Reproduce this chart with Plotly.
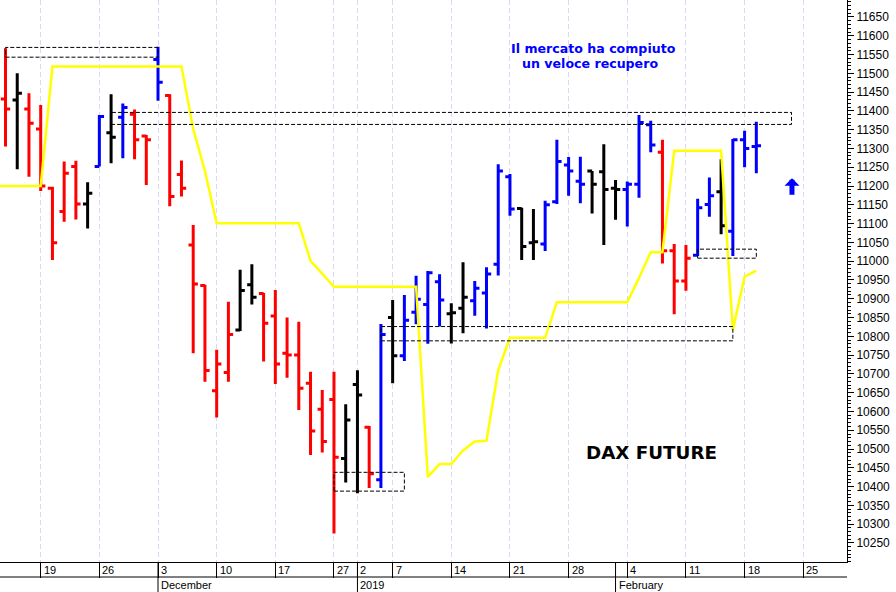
import plotly.graph_objects as go

# ---------------- data ----------------
# trading days shown on the axis (one slot per session); first and last slots carry no bars
axis_dates = (
    ["2018-11-13", "2018-11-14", "2018-11-15", "2018-11-16", "2018-11-19", "2018-11-20", "2018-11-21",
     "2018-11-22", "2018-11-23", "2018-11-26", "2018-11-27", "2018-11-28", "2018-11-29", "2018-11-30",
     "2018-12-03", "2018-12-04", "2018-12-05", "2018-12-06", "2018-12-07", "2018-12-10", "2018-12-11",
     "2018-12-12", "2018-12-13", "2018-12-14", "2018-12-17", "2018-12-18", "2018-12-19", "2018-12-20",
     "2018-12-21", "2018-12-27", "2018-12-28",
     "2019-01-02", "2019-01-03", "2019-01-04", "2019-01-07", "2019-01-08", "2019-01-09", "2019-01-10",
     "2019-01-11", "2019-01-14", "2019-01-15", "2019-01-16", "2019-01-17", "2019-01-18", "2019-01-21",
     "2019-01-22", "2019-01-23", "2019-01-24", "2019-01-25", "2019-01-28", "2019-01-29", "2019-01-30",
     "2019-01-31", "2019-02-01", "2019-02-04", "2019-02-05", "2019-02-06", "2019-02-07", "2019-02-08",
     "2019-02-11", "2019-02-12", "2019-02-13", "2019-02-14", "2019-02-15", "2019-02-18", "2019-02-19",
     "2019-02-20", "2019-02-21", "2019-02-22", "2019-02-25", "2019-02-26", "2019-02-27", "2019-02-28"]
)

bar_dates = axis_dates[1:66]

opens = [11432, 11429, 11405, 11352, 11194, 11132, 11252, 11152, 11252, 11342, 11383, 11391, 11333,
         11537, 11441, 11231, 11043, 10935, 10655, 10704, 10817, 10937, 10914, 10854, 10755, 10750,
         10675, 10606, 10632, 10475,
         10672, 10558, 10418, 10850, 10748, 10864, 10885, 10945, 10860, 10875, 10895, 10915, 10992,
         11225, 11140, 11049, 11046, 11158, 11256, 11213, 11240, 11238,
         11194, 11191, 11205, 11363, 11290, 11028, 10947, 11016, 11151, 11185, 11080, 11323, 11305]
highs = [11567, 11500, 11447, 11416, 11198, 11265, 11267, 11210, 11389, 11444, 11420, 11404, 11336,
         11571, 11444, 11268, 11096, 10937, 10764, 10892, 10977, 10992, 10915, 10923, 10850, 10839,
         10706, 10657, 10706, 10619,
         10710, 10561, 10833, 10897, 10910, 10961, 10974, 10965, 10888, 10997, 10947, 10984, 11258,
         11232, 11142, 11139, 11161, 11323, 11277, 11278, 11240, 11311,
         11216, 11212, 11389, 11374, 11323, 11046, 11043, 11166, 11223, 11271, 11325, 11347, 11371]
lows = [11305, 11245, 11225, 11187, 11003, 11105, 11111, 11087, 11252, 11261, 11274, 11271, 11203,
        11427, 11146, 11172, 10755, 10679, 10584, 10679, 10814, 10885, 10733, 10673, 10690, 10604,
        10484, 10491, 10275, 10411,
        10382, 10396, 10396, 10675, 10734, 10832, 10780, 10826, 10781, 10808, 10855, 10821, 10962,
        11121, 11003, 11003, 11027, 11152, 11174, 11154, 11127, 11043,
        11110, 11092, 11169, 11290, 10994, 10859, 10921, 11014, 11118, 11072, 11014, 11250, 11234]
closes = [11405, 11447, 11367, 11200, 11049, 11234, 11152, 11181, 11385, 11330, 11409, 11323, 11323,
          11476, 11172, 11194, 10939, 10709, 10726, 10805, 10922, 10904, 10835, 10726, 10750, 10662,
          10548, 10520, 10478, 10577,
          10644, 10434, 10805, 10748, 10843, 10899, 10969, 10897, 10863, 10904, 10928, 10966, 11240,
          11139, 11039, 11052, 11150, 11265, 11240, 11205, 11205, 11191,
          11191, 11205, 11369, 11309, 11028, 10947, 11008, 11142, 11174, 11094, 11323, 11300, 11307]
# bar colour code per session: R red, B blue, K black
bar_colors = list("RKRRRRRKBKBRRBRRRRRRKKRRRRRRRKKRBKBBBBKKBBBBKKBBBBKKKBBBRRRBBKBBB")

# yellow indicator line (one value per slot, starting on 2018-11-13)
yellow_dates = axis_dates[0:66]
yellow_vals = [11200, 11200, 11200, 11200, 11200, 11518, 11518, 11518, 11518, 11518, 11518, 11518,
               11518, 11518, 11518, 11518, 11518, 11352, 11240, 11101, 11101, 11101, 11101, 11101,
               11101, 11101, 11101, 11001, 10966, 10932, 10932, 10932, 10932, 10932, 10932, 10932,
               10932, 10426, 10460, 10460, 10496, 10520, 10522, 10710, 10796, 10796, 10796, 10796,
               10891, 10891, 10891, 10891, 10891, 10891, 10891, 10955, 11024, 11024, 11294, 11294,
               11294, 11294, 11294, 10817, 10959, 10975]

# dashed price zones: (start date, end date, low, high)
zones = [("2018-11-14", "2018-12-03", 11543, 11569),
         ("2018-11-27", "2019-02-22", 11364, 11396),
         ("2018-12-27", "2019-01-08", 10388, 10438),
         ("2019-01-04", "2019-02-15", 10788, 10826),
         ("2019-02-12", "2019-02-19", 11008, 11032)]

tick_dates = ["2018-11-19", "2018-11-26", "2018-12-03", "2018-12-10", "2018-12-17", "2018-12-27",
              "2019-01-02", "2019-01-07", "2019-01-14", "2019-01-21", "2019-01-28", "2019-02-04",
              "2019-02-11", "2019-02-18", "2019-02-25"]
tick_labels = ["19", "26", "3", "10", "17", "27", "2", "7", "14", "21", "28", "4", "11", "18", "25"]
month_dates = ["2018-12-03", "2019-01-02", "2019-02-01"]
month_labels = ["December", "2019", "February"]

y_ticks = list(range(10250, 11651, 50))

# ---------------- figure ----------------
slot = {d: i for i, d in enumerate(axis_dates)}
COL = {"R": "#ff0000", "B": "#0000ff", "K": "#000000"}

fig = go.Figure()

fig.add_trace(go.Scatter(
    x=[slot[d] for d in yellow_dates], y=yellow_vals, mode="lines",
    line=dict(color="#ffff00", width=2.5), hoverinfo="skip"))

for code in ["R", "B", "K"]:
    idx = [i for i, c in enumerate(bar_colors) if c == code]
    fig.add_trace(go.Ohlc(
        x=[slot[bar_dates[i]] for i in idx],
        open=[opens[i] for i in idx], high=[highs[i] for i in idx],
        low=[lows[i] for i in idx], close=[closes[i] for i in idx],
        increasing=dict(line=dict(color=COL[code], width=3)),
        decreasing=dict(line=dict(color=COL[code], width=3)),
        line=dict(width=3), tickwidth=0.4, hoverinfo="skip"))

shapes = []
for d0, d1, lo, hi in zones:
    shapes.append(dict(type="rect", xref="x", yref="y", x0=slot[d0], x1=slot[d1], y0=lo, y1=hi,
                       line=dict(color="black", width=1, dash="4px,2px"), fillcolor="rgba(0,0,0,0)",
                       layer="above"))

band = 15 / 562
# horizontal line closing the day-number band
shapes.append(dict(type="line", xref="paper", yref="paper", x0=0, x1=1, y0=-band, y1=-band,
                   line=dict(color="black", width=1)))
# month separators
for d in month_dates:
    shapes.append(dict(type="line", xref="x", yref="paper", x0=slot[d], x1=slot[d], y0=0, y1=-0.06,
                       line=dict(color="black", width=1)))

annotations = []
for d, t in zip(tick_dates, tick_labels):
    annotations.append(dict(x=slot[d], y=0, xref="x", yref="paper", text=t, showarrow=False,
                            xanchor="left", yanchor="middle", xshift=1, yshift=-8,
                            font=dict(family="Liberation Sans, Arial", size=11, color="black")))
for d, t in zip(month_dates, month_labels):
    annotations.append(dict(x=slot[d], y=0, xref="x", yref="paper", text=t, showarrow=False,
                            xanchor="left", yanchor="middle", xshift=1, yshift=-23,
                            font=dict(family="Liberation Sans, Arial", size=11, color="black")))

annotations += [
    dict(x=51.14, y=11567, xref="x", yref="y", text="<b>Il mercato ha compiuto</b>", showarrow=False,
         xanchor="center", yanchor="middle",
         font=dict(family="DejaVu Sans", size=12.6, color="#0000ff")),
    dict(x=50.82, y=11527, xref="x", yref="y", text="<b>un veloce recupero</b>", showarrow=False,
         xanchor="center", yanchor="middle",
         font=dict(family="DejaVu Sans", size=12.6, color="#0000ff")),
    dict(x=56.06, y=10492, xref="x", yref="y", text="<b>DAX FUTURE</b>", showarrow=False,
         xanchor="center", yanchor="middle",
         font=dict(family="DejaVu Sans", size=18.3, color="black")),
    dict(x=68.04, y=11221, xref="x", yref="y", text="", showarrow=True, ax=0, ay=18,
         arrowhead=1, arrowwidth=5, arrowsize=0.5, arrowcolor="#0000ff"),
]

fig.update_layout(
    width=896, height=592, margin=dict(l=0, r=49, t=0, b=30),
    paper_bgcolor="white", plot_bgcolor="white", showlegend=False,
    shapes=shapes, annotations=annotations,
    xaxis=dict(range=[0.531, 72.73], tickmode="array", tickvals=[slot[d] for d in tick_dates],
               ticks="outside", ticklen=15, tickcolor="black", tickwidth=1, showticklabels=False,
               showgrid=True, gridcolor="#d8d8f2", gridwidth=1, griddash="5px,3px",
               showline=True, linecolor="black", linewidth=1, mirror=True, zeroline=False,
               rangeslider=dict(visible=False)),
    yaxis=dict(side="right", range=[10199.3, 11695.2], tickmode="array", tickvals=y_ticks,
               tickformat="d",
               ticks="outside", ticklen=6, tickcolor="black", tickwidth=1,
               tickfont=dict(family="Liberation Sans, Arial", size=12, color="black"),
               minor=dict(tickmode="linear", tick0=0, dtick=10, ticks="outside", ticklen=3,
                          tickcolor="black", showgrid=False),
               showgrid=False, showline=True, linecolor="black", linewidth=1, zeroline=False),
)

fig.write_html("out.html", config={"displayModeBar": False},
               post_script="document.body.style.margin='0px';document.body.style.overflow='hidden';")
